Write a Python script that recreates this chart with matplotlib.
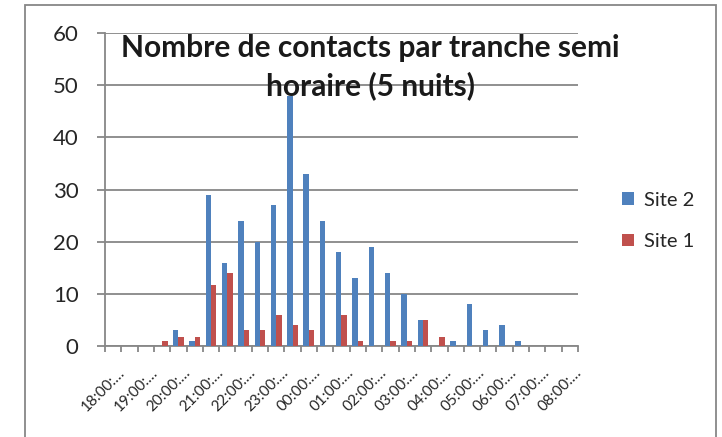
import numpy as np
import matplotlib
matplotlib.use("Agg")
import matplotlib.pyplot as plt
from matplotlib.patches import Rectangle
from matplotlib.transforms import ScaledTranslation

# half-hour slots, 18:00 -> 08:00
slots = ['18:00', '18:30', '19:00', '19:30', '20:00', '20:30', '21:00', '21:30',
         '22:00', '22:30', '23:00', '23:30', '00:00', '00:30', '01:00', '01:30',
         '02:00', '02:30', '03:00', '03:30', '04:00', '04:30', '05:00', '05:30',
         '06:00', '06:30', '07:00', '07:30', '08:00']
site2 = [0, 0, 0, 0, 3, 0.9, 29, 16, 24, 20, 27, 48, 33, 24, 18, 13, 19, 14,
         10, 5, 0, 1, 8, 3, 4, 1, 0, 0, 0]
site1 = [0, 0, 0, 1, 1.7, 1.7, 11.7, 14, 3, 3, 6, 4, 3, 0, 6, 1, 0, 1,
         1, 5, 1.8, 0, 0, 0, 0, 0, 0, 0, 0]
title = 'Nombre de contacts par tranche semi\nhoraire (5 nuits)'

plt.rcParams['font.family'] = ['Lato', 'DejaVu Sans']

blue = '#4F81BD'
red = '#C0504D'
grey = '#878787'

fig = plt.figure(figsize=(7.22, 4.37), dpi=100)
ax = fig.add_axes([105 / 722, 1 - 346 / 437, 473 / 722, 313 / 437])

x = np.arange(len(slots))
w = 1 / 3
ax.bar(x - w / 2, site2, width=w, color=blue, label='Site 2', zorder=3)
ax.bar(x + w / 2, site1, width=w, color=red, label='Site 1', zorder=3)

ax.set_xlim(-0.5, len(slots) - 0.5)
ax.set_ylim(0, 60)
ax.set_yticks(range(0, 61, 10))
ax.grid(axis='y', color=grey, linewidth=1.3, zorder=0)
ax.set_axisbelow(True)

for s in ['top', 'right']:
    ax.spines[s].set_visible(False)
for s in ['left', 'bottom']:
    ax.spines[s].set_color(grey)
    ax.spines[s].set_linewidth(1.3)

ax.tick_params(axis='y', length=6, width=1.3, color=grey, pad=13,
               labelsize=16, labelcolor='#262626')

# category boundary ticks and labels every hour
ax.set_xticks(np.arange(len(slots) + 1) - 0.5)
ax.set_xticklabels([])
ax.tick_params(axis='x', which='major', length=4, width=1.3, color=grey)
ax.set_xticks(x[::2], [s + ':…' for s in slots[::2]], minor=True)
ax.tick_params(axis='x', which='minor', length=0, labelsize=11,
               labelcolor='#262626')
offset = ScaledTranslation(10 / 100, -20 / 100, fig.dpi_scale_trans)
for lab in ax.get_xticklabels(minor=True):
    lab.set_rotation(45)
    lab.set_rotation_mode('anchor')
    lab.set_ha('right')
    lab.set_va('center')
    lab.set_transform(lab.get_transform() + offset)

fig.text(370 / 722, 1 - 67 / 437, title, ha='center', va='center',
         fontsize=21.5, fontweight='bold', color='#1a1a1a', linespacing=1.35)

ax.legend(loc='center left', bbox_to_anchor=(604 / 722, 1 - 221 / 437),
          bbox_transform=fig.transFigure, frameon=False, fontsize=14.5,
          handlelength=0.6, handleheight=0.6, handletextpad=0.5,
          labelspacing=1.2, labelcolor='#262626')

fig.patches.append(Rectangle((25 / 722, -0.1), 691 / 722, 1.1 - 5 / 437,
                             transform=fig.transFigure, fill=False,
                             edgecolor=grey, linewidth=1.3))

fig.savefig('out.png', dpi=100)
